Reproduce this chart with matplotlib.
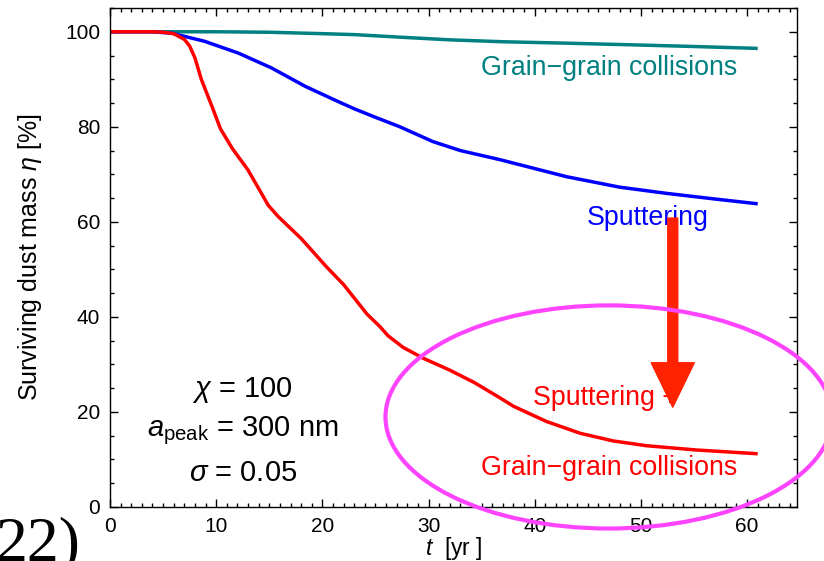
import matplotlib
matplotlib.use("Agg")
import matplotlib.pyplot as plt
from matplotlib.patches import Ellipse, FancyArrowPatch
from matplotlib.ticker import MultipleLocator

plt.rcParams['font.family'] = ['Liberation Sans', 'DejaVu Sans']
plt.rcParams['mathtext.fontset'] = 'custom'
plt.rcParams['mathtext.rm'] = 'Liberation Sans'
plt.rcParams['mathtext.it'] = 'Liberation Sans:italic'

# data (time in yr, surviving mass in %)
t_coll = [0, 10, 15, 20, 23, 27, 32, 37, 43, 50, 55, 61]
eta_coll = [100, 100, 99.9, 99.6, 99.4, 98.9, 98.3, 97.9, 97.6, 97.2, 96.9, 96.5]

t_sput = [0, 4, 5.8, 8.9, 12.1, 15.2, 18.4, 21.5, 23.1, 25, 27.3, 30.4, 33, 36.7,
          43, 48, 52.4, 57, 61]
eta_sput = [100, 100, 99.7, 98, 95.5, 92.4, 88.5, 85.3, 83.7, 82, 80, 76.9, 75, 73.1,
            69.5, 67.3, 66, 64.8, 63.8]

t_both = [0, 4, 5, 6, 7, 7.5, 8, 8.6, 9.6, 10.4, 11.5, 13, 14.9, 15.8, 18, 20.4,
          22, 24.2, 25.4, 26.2, 27.6, 29.5, 32, 34.3, 36.7, 38, 41.1, 44.3, 47.4,
          50.5, 55.2, 61]
eta_both = [100, 100, 99.9, 99.6, 98.4, 97, 94.5, 90, 84.3, 79.6, 75.5, 70.9, 63.5,
            61.2, 56.5, 50.5, 46.8, 40.6, 38, 36, 33.6, 31.3, 28.8, 26.2, 23, 21.2,
            18, 15.5, 13.9, 12.9, 12, 11.2]

W, H = 824, 561
fig = plt.figure(figsize=(W / 100, H / 100), dpi=100)
ax = fig.add_axes([110 / W, 1 - 507 / H, (797 - 110) / W, (507 - 8) / H])

ax.plot(t_coll, eta_coll, color='#008080', lw=2.5, solid_capstyle='butt')
ax.plot(t_sput, eta_sput, color='#0000ff', lw=2.5, solid_capstyle='butt')
ax.plot(t_both, eta_both, color='#ff0000', lw=2.5, solid_capstyle='butt')

ax.set_xlim(0, 64.7)
ax.set_ylim(0, 105)
ax.xaxis.set_major_locator(MultipleLocator(10))
ax.xaxis.set_minor_locator(MultipleLocator(1))
ax.yaxis.set_major_locator(MultipleLocator(20))
ax.yaxis.set_minor_locator(MultipleLocator(5))
ax.tick_params(which='both', direction='in', top=True, right=True, labelsize=15,
               width=1)
ax.tick_params(axis='x', pad=7)
ax.tick_params(axis='y', pad=7)
ax.tick_params(which='major', length=5.5)
ax.tick_params(which='minor', length=3)
for s in ax.spines.values():
    s.set_linewidth(1)

ax.set_ylabel(r'Surviving dust mass $\it{\eta}$ [%]', fontsize=18, labelpad=15)
ax.set_xlabel(r'$\it{t}$  [yr ]', fontsize=16.5, labelpad=-0.5)

ax.text(47, 92.4, 'Grain\u2212grain collisions', color='#008080', fontsize=19.3,
        ha='center', va='center')
ax.text(50.6, 60.8, 'Sputtering', color='#0000ff', fontsize=19.3,
        ha='center', va='center')
ax.text(39.8, 22.9, 'Sputtering +', color='#ff0000', fontsize=19.3,
        ha='left', va='center')
ax.text(47, 8.2, 'Grain\u2212grain collisions', color='#ff0000', fontsize=19.3,
        ha='center', va='center')

ax.text(12.5, 24.6, r'$\chi$ = 100', fontsize=21, ha='center', va='center')
ax.text(12.5, 16.0, r'$a_{\rm peak}$ = 300 nm', fontsize=21, ha='center', va='center')
ax.text(12.5, 7.2, r'$\sigma$ = 0.05', fontsize=21, ha='center', va='center')

arrow = FancyArrowPatch((53, 60.8), (53, 21),
                        arrowstyle='simple,head_width=31,head_length=32,tail_width=7.2',
                        color='#ff2200', shrinkA=0, shrinkB=0, mutation_scale=1,
                        zorder=5)
ax.add_patch(arrow)

ell = Ellipse(((608 - 110) / 10.6, (507 - 417) / 4.75), 446 / 10.6, 223 / 4.75,
              fill=False, edgecolor='#ff44ff', lw=3, clip_on=False, zorder=6)
ax.add_patch(ell)

fig.text(-5 / W, 1 - 560 / H, '22)', fontsize=46, family='Liberation Serif',
         ha='left', va='baseline')

fig.savefig('out.png', dpi=100)
